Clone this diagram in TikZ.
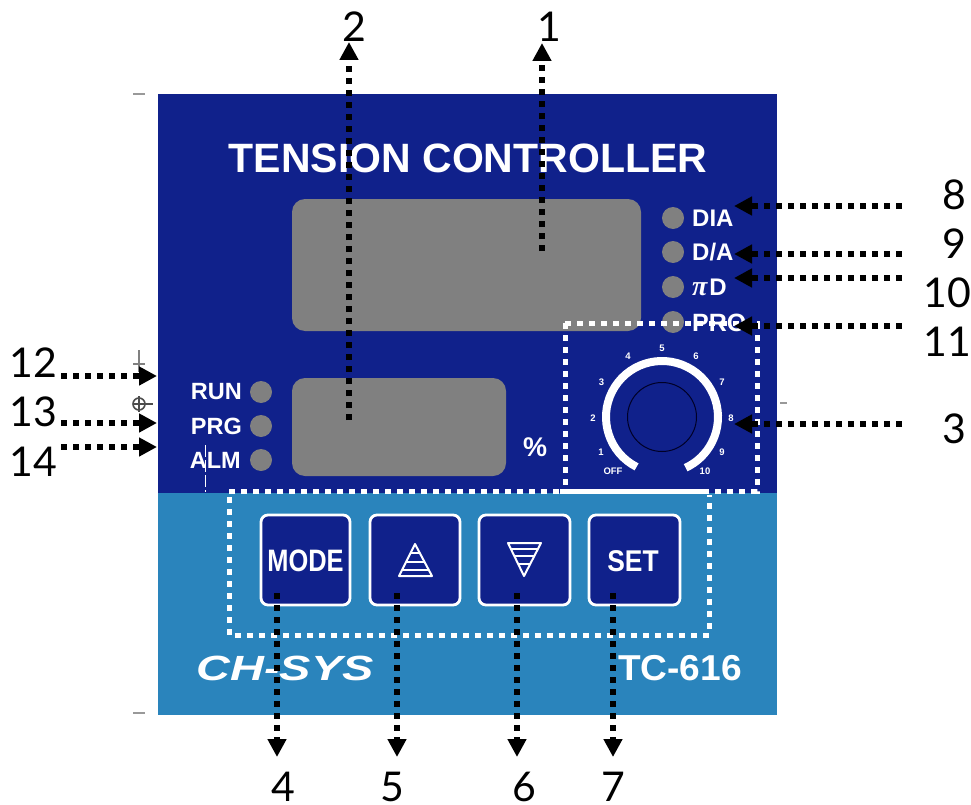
\documentclass[tikz,border=0pt]{standalone}
\usepackage{fontspec}
\setmainfont{Liberation Sans}
\newfontfamily\numfont{Lato}
\newfontfamily\pifont{Liberation Serif}
\usetikzlibrary{arrows.meta}
\definecolor{panelblue}{HTML}{10218B}
\definecolor{lowblue}{HTML}{2A84BC}
\definecolor{dispgray}{HTML}{808080}
\tikzset{
  x=1pt,y=-1pt,
  disp/.style={fill=dispgray,rounded corners=13pt},
  led/.style={circle,fill=dispgray,inner sep=0pt,minimum size=22pt},
  btn/.style={draw=white,line width=2.8pt,fill=panelblue,rounded corners=7pt},
  wtxt/.style={text=white,font=\bfseries,inner sep=0pt},
  tick/.style={text=white,font=\bfseries\fontsize{9.5}{9.5}\selectfont,inner sep=0pt},
  num/.style={text=black,font=\numfont\fontsize{41}{41}\selectfont,inner sep=0pt},
  callout/.style={draw=black,line width=6pt,dash pattern=on 6pt off 6pt,
    -{Triangle[length=18pt,width=18pt,sep=0pt]}},
  whitedots/.style={draw=white,line width=5pt,dash pattern=on 6pt off 6pt},
}
\begin{document}
\begin{tikzpicture}
\useasboundingbox (0,0) rectangle (971,805);
\fill[white] (0,0) rectangle (971,805);
% registration marks
\draw[gray!80,line width=1.3pt] (133,94)--(145,94);
\draw[gray!80,line width=1.3pt] (133,713)--(145,713);
\draw[gray!80,line width=1.3pt] (780,403)--(787,403);
\draw[gray,line width=1.2pt] (139,350)--(139,372) (133,364)--(145,364);
\draw[gray!60!black,line width=1.6pt] (139,404) circle (6);
\draw[gray!60!black,line width=1.2pt] (133,404)--(153,404) (139,396)--(139,412);
% panel
\fill[panelblue] (158,94) rectangle (777,493);
\fill[lowblue] (158,493) rectangle (777,715);
% displays
\fill[disp] (292,199) rectangle (641,331);
\fill[disp] (292,378) rectangle (506,476);
% title
\node[wtxt] (title) at (468,158) {\fontsize{41}{41}\selectfont TENSION CONTROLLER};
% right LEDs
\node[led] (ledA) at (673,218) {};
\node[led] (ledB) at (673,252) {};
\node[led] (ledC) at (673,287) {};
\node[led] (ledD) at (673,322) {};
% dotted frames
\draw[whitedots] (565,323)--(757,323)--(757,491)--(708,491);
\draw[whitedots] (565,323)--(565,491);
\draw[whitedots] (559,491)--(229,491)--(229,635)--(709,635)--(709,495);
\fill[white] (560,489) rectangle (708,494);
\node[wtxt,anchor=west] (tA) at (692,218) {\fontsize{24}{24}\selectfont DIA};
\node[wtxt,anchor=west] (tB) at (692,252) {\fontsize{24}{24}\selectfont D/A};
\node[wtxt,anchor=west] (tC) at (692,287) {\fontsize{24}{24}\selectfont{\pifont\itshape\fontsize{28}{28}\selectfont π}\kern2pt D};
\node[wtxt,anchor=west] (tD) at (692,323) {\fontsize{25}{25}\selectfont PRO};
% left LEDs
\node[led] (ledR) at (261,392) {};
\node[led] (ledP) at (261,426) {};
\node[led] (ledL) at (261,460) {};
\node[wtxt,anchor=east] (tR) at (242,392) {\fontsize{23.5}{24}\selectfont RUN};
\node[wtxt,anchor=east] (tP) at (242,426) {\fontsize{23.5}{24}\selectfont PRG};
\node[wtxt,anchor=east] (tL) at (241,460) {\fontsize{23.5}{24}\selectfont ALM};
\draw[white,line width=1pt,dash pattern=on 12pt off 3pt] (205,445)--(205,492);
\node[wtxt] (pct) at (535,447) {\fontsize{27}{27}\selectfont \%};
% knob
\draw[white,line width=8pt] (662,417) ++(117:56) arc[start angle=117,end angle=425,radius=56];
\draw[black!85!blue,line width=1pt] (662,417) circle (34.5);
\foreach \nm/\px/\py/\tx in {a/613/471/OFF,b/601/452/1,c/593/418/2,d/601.5/382/3,e/628/356/4,f/662/348/5,g/696/356/6,h/722/382/7,i/731/418/8,j/722/452/9,k/705/471/10}{
  \node[tick] (tick\nm) at (\px,\py) {\tx};
}
% buttons
\draw[btn] (261,515) rectangle (350,605);
\draw[btn] (370,515) rectangle (460,605);
\draw[btn] (479,515) rectangle (570,605);
\draw[btn] (589,515) rectangle (680,605);
\node[wtxt,xscale=.82] (mode) at (305.5,561) {\fontsize{31}{31}\selectfont MODE};
\node[wtxt,xscale=.88] (setb) at (633,561) {\fontsize{30}{30}\selectfont SET};
% triangles
\draw[white,line width=2pt,line join=round] (415,544)--(399,576)--(432,576)--cycle;
\draw[white,line width=2pt] (410.5,553)--(420,553) (406,562)--(425,562) (403,570)--(428,570);
\draw[white,line width=2pt,line join=round] (508,543)--(541,543)--(524,576)--cycle;
\draw[white,line width=2pt] (511,549)--(538,549) (514,556)--(535,556) (518,564)--(531,564);
% bottom text
\node[text=white,inner sep=0pt,font=\bfseries\itshape\fontsize{35}{35}\selectfont,xscale=1.34] (brand) at (285,668) {CH-SYS};
\node[wtxt,xscale=1.03] (model) at (680,668) {\fontsize{36}{36}\selectfont TC-616};
% callouts
\foreach \nm/\ax/\ay/\bx/\by/\tx/\lx/\ly in {
 one/542/251/542/43/1/549/27,
 two/349/420/349/42/2/354/27,
 eight/902/206/734/206/8/954/195,
 nine/902/254/734/254/9/954/244,
 ten/902/278/734/278/10/947/293,
 eleven/902/326/734/326/11/947/342,
 three/902/424/734/424/3/954/429,
 twelve/61/376/157/376/12/33/363,
 thirteen/61/423/157/423/13/33/412,
 fourteen/61/447/157/447/14/33/462,
 four/277/593/277/757/4/283/787,
 five/397/593/397/757/5/392/787,
 six/517/593/517/757/6/524/787,
 seven/613/593/613/757/7/613/787}{
  \node[num] (n\nm) at (\lx,\ly) {\tx};
  \coordinate (s\nm) at (\ax,\ay);
  \coordinate (e\nm) at (\bx,\by);
  \draw[callout] (s\nm) -- (e\nm);
}
\end{tikzpicture}
\end{document}
